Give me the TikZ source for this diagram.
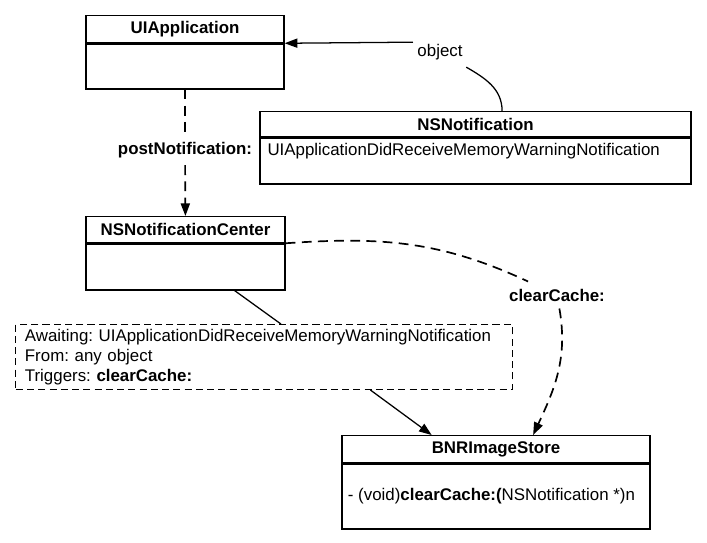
\documentclass[tikz,border=0pt]{standalone}
\usepackage{fontspec}
\setmainfont{Liberation Sans}
\usetikzlibrary{arrows.meta,positioning,calc}
\frenchspacing

\begin{document}
\begin{tikzpicture}[
  x=0.025cm, y=-0.025cm,
  font=\fontsize{12}{14.2}\selectfont,
  classhead/.style={draw, line width=0.9pt, font=\fontsize{12}{14.2}\selectfont\bfseries, inner sep=0pt},
  classbody/.style={draw, line width=0.9pt, inner sep=0pt},
  member/.style={anchor=west, inner sep=3pt},
  note/.style={draw, dash pattern=on 5pt off 3pt, line width=0.7pt, align=left, text width=11.95cm, inner xsep=6.4pt, minimum height=1.625cm},
  msg/.style={line width=1.2pt, dash pattern=on 7pt off 4.5pt},
  link/.style={line width=0.9pt},
  arr/.style={-{Triangle[length=9pt,width=6.5pt]}},
  lbl/.style={inner xsep=3pt, inner ysep=5pt}
]
\useasboundingbox (0,0) rectangle (707,543);

% classes
\node[classhead, minimum width=4.95cm, minimum height=0.675cm, anchor=north] (apphead) at (185,15) {UIApplication};
\node[classbody, minimum width=4.95cm, minimum height=1.125cm, below=0pt of apphead] (appbody) {};

\node[classhead, minimum width=10.775cm, minimum height=0.625cm, anchor=north] (notifhead) at (475.5,111) {NSNotification};
\node[classbody, minimum width=10.775cm, minimum height=1.15cm, below=0pt of notifhead] (notifbody) {};
\node[member] (notifname) at (263,151) {UIApplicationDidReceiveMemoryWarningNotification};

\node[classhead, minimum width=4.975cm, minimum height=0.65cm, anchor=north] (centerhead) at (185.5,216) {NSNotificationCenter};
\node[classbody, minimum width=4.975cm, minimum height=1.15cm, below=0pt of centerhead] (centerbody) {};

\node[classhead, minimum width=7.7cm, minimum height=0.675cm, anchor=north] (storehead) at (496,435) {BNRImageStore};
\node[classbody, minimum width=7.7cm, minimum height=1.625cm, below=0pt of storehead] (storebody) {};
\node[member] (storemethod) at ([xshift=1.5pt]storebody.west) {- (void)\textbf{clearCache:(}NSNotification *)n};

% observer note
\node[note] (awaitnote) at (264,357) {Awaiting: UIApplicationDidReceiveMemoryWarningNotification\\
From: any object\\
Triggers: \textbf{clearCache:}};

% labels
\node[lbl] (objlbl) at (440,52) {object};
\node[lbl, font=\fontsize{12}{14.2}\selectfont\bfseries] (postlbl) at (185,150) {postNotification:};
\node[lbl, font=\fontsize{12}{14.2}\selectfont\bfseries] (cclbl) at (557,295) {clearCache:};

% connectors
\draw[link] ($(notifhead.north west)!0.5615!(notifhead.north east)$) to[out=90, in=-30] (objlbl);
\draw[link, arr] (objlbl.160) -- (apphead.south east);
\draw[msg] (appbody) -- (postlbl);
\draw[msg, arr] (postlbl) -- (centerhead);
\draw[msg] (centerhead.south east) to[out=4, in=155] (cclbl);
\draw[msg, arr] (cclbl) to[out=-80, in=65] ($(storehead.north west)!0.62!(storehead.north east)$);
\draw[link] ($(centerbody.south west)!0.745!(centerbody.south east)$) -- ($(awaitnote.north west)!0.534!(awaitnote.north east)$);
\draw[link, arr] ($(awaitnote.south west)!0.714!(awaitnote.south east)$) -- ($(storehead.north west)!0.292!(storehead.north east)$);
\end{tikzpicture}
\end{document}
